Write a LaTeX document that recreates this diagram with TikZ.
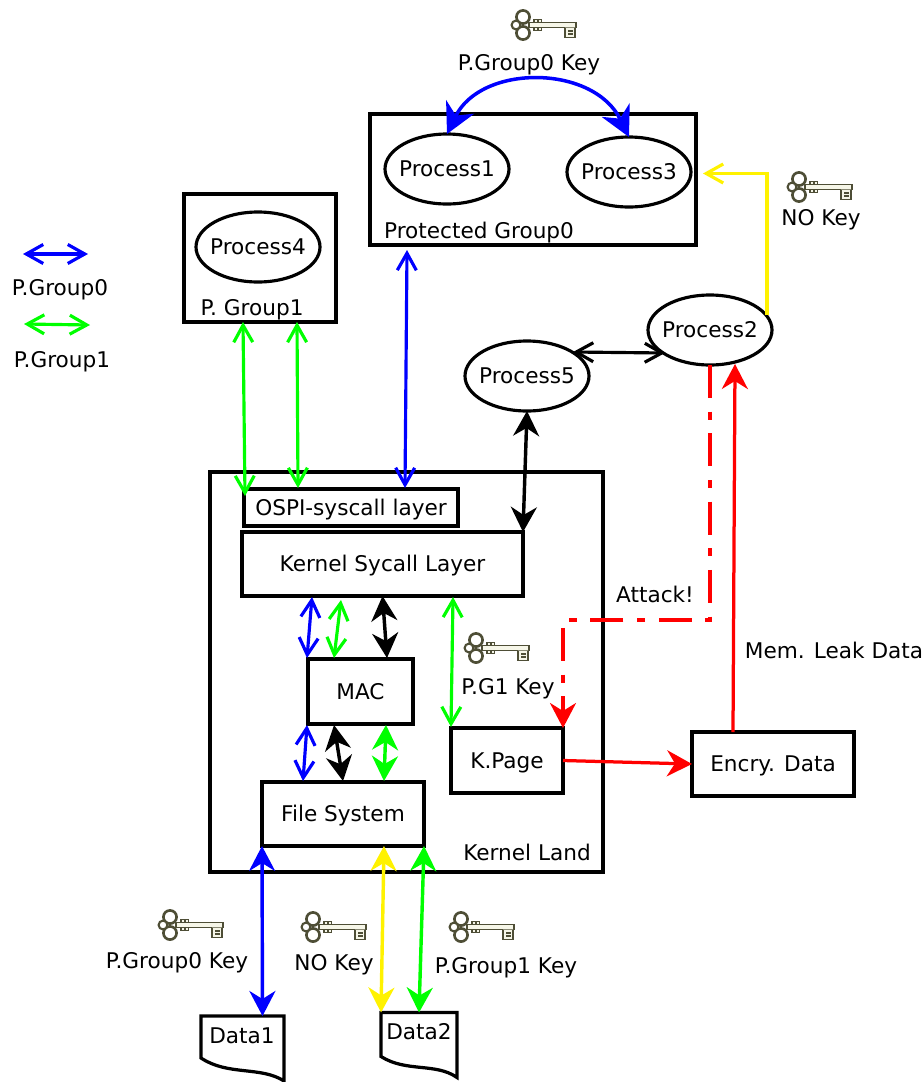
\documentclass[tikz,border=0pt]{standalone}
\usepackage{fontspec}
\setmainfont{DejaVu Sans}
\usetikzlibrary{arrows.meta,calc,positioning,shapes.geometric}
\definecolor{keyline}{HTML}{4E4E36}
\definecolor{keyfill}{HTML}{F6F6E8}
\tikzset{
  lbl/.style={font=\fontsize{12.3}{14}\selectfont,inner sep=0pt,text height=9pt,text depth=0pt},
  box/.style 2 args={draw,line width=1.85pt,outer sep=0pt,inner sep=0pt,
    minimum width=#1*0.02cm,minimum height=#2*0.02cm,lbl},
  proc/.style={ellipse,draw,line width=1.8pt,outer sep=0pt,inner sep=0pt,
    minimum width=124*0.02cm,minimum height=70*0.02cm,label={[lbl]center:#1}},
  docbox/.style={outer sep=0pt,inner sep=0pt,minimum width=#1*0.02cm,minimum height=65*0.02cm},
  doc/.style={line width=1.85pt,line join=miter},
  thinarr/.style={line width=1.8pt,{Straight Barb[length=3.4mm,width=3.8mm]}-{Straight Barb[length=3.4mm,width=3.8mm]}},
  bigarr/.style={line width=1.95pt,{Stealth[length=5mm,width=5.2mm,inset=1.6mm]}-{Stealth[length=5mm,width=5.2mm,inset=1.6mm]}},
  arcarr/.style={line width=2pt,{Stealth[length=6mm,width=6.2mm,inset=1.9mm]}-{Stealth[length=6mm,width=6.2mm,inset=1.9mm]}},
  onearr/.style={line width=1.85pt,-{Stealth[length=5mm,width=5.2mm,inset=1.6mm]}},
  keyicon/.pic={
    \draw[keyline,fill=keyfill,line width=0.7pt] (-14,-2.7) rectangle (33,2.7);
    \draw[keyline,fill=keyfill,line width=0.7pt] (22,2.7) -- (22,12.5) -- (32,12.5) -- (32,2.7)
      (25,6) -- (30,6) (25,9) -- (30,9);
    \foreach \tx in {-9,-5} {
      \draw[keyline,fill=keyfill,line width=0.6pt] (\tx,-5.2) rectangle ++(3.6,2.5);
      \draw[keyline,fill=keyfill,line width=0.6pt] (\tx,2.7) rectangle ++(3.6,2.5);
    }
    \draw[keyline,line width=1.5pt,fill=white] (-20,-8) circle (6.6);
    \draw[keyline,line width=1.5pt,fill=white] (-20,8) circle (6.6);
    \draw[keyline,line width=1.2pt,fill=white] (-27,0) circle (4.4);
  },
}

\begin{document}
\begin{tikzpicture}[x=0.02cm,y=-0.02cm,>=Stealth]
  \useasboundingbox (0,0) rectangle (923,1082);
  % protected group and its processes
  \node[box={326}{131}] (pg0) at (533,179.5) {};
  \node[proc=Process1] (p1) at (447,169) {};
  \node[proc=Process3] (p3) at (629,172) {};
  \node[lbl] (pg0txt) at (479,231) {Protected Group0};
  \node[box={152}{128}] (pg1) at (260,258) {};
  \node[proc=Process4] (p4) at (258,247) {};
  \node[lbl] (pg1txt) at (252,308) {P. Group1};
  \node[proc=Process2] (p2) at (710,330) {};
  \node[proc=Process5] (p5) at (527,376) {};
  % kernel side
  \node[box={393}{400}] (kernel) at (406.5,672) {};
  \node[lbl] (kerneltxt) at (527,853) {Kernel Land};
  \node[box={214}{37}] (ospi) at (351,507.5) {OSPI-syscall layer};
  \node[box={281}{64}] (sys) at (382.5,564) {Kernel Sycall Layer};
  \node[box={105}{65}] (mac) at (360.5,691.5) {MAC};
  \node[box={162}{64}] (fs) at (343,814) {File System};
  \node[box={112}{65}] (kpage) at (507,760.5) {K.Page};
  \node[box={162}{64}] (encry) at (773,764) {Encry. Data};
  % data files
  \node[docbox=83] (data1) at (242.5,1048.5) {};
  \node[docbox=76] (data2) at (419,1045) {};
  \node[lbl] (data1txt) at (242,1036) {Data1};
  \node[lbl] (data2txt) at (419,1032) {Data2};
  \draw[doc] (data1.north west) -- (data1.north east) -- (data1.south east)
    .. controls ($(data1.south east)+(-23,-15)$) and ($(data1.south west)+(27,-5)$) .. ($(data1.south west)+(0,-23)$) -- cycle;
  \draw[doc] (data2.north west) -- (data2.north east) -- (data2.south east)
    .. controls ($(data2.south east)+(-21,-15)$) and ($(data2.south west)+(25,-5)$) .. ($(data2.south west)+(0,-21)$) -- cycle;
  % legend
  \coordinate (leg0a) at (23,254);
  \coordinate (leg0b) at (88,254);
  \coordinate (leg1a) at (24,324);
  \coordinate (leg1b) at (90,325);
  \draw[thinarr,blue] (leg0a) -- (leg0b);
  \draw[thinarr,green] (leg1a) -- (leg1b);
  \node[lbl] (leg0txt) at (60,288) {P.Group0};
  \node[lbl] (leg1txt) at (62,360) {P.Group1};
  % keys
  \pic at (543,25) {keyicon};
  \pic at (819,187) {keyicon};
  \pic at (496,648) {keyicon};
  \pic at (190,925) {keyicon};
  \pic at (333,927) {keyicon};
  \pic at (481,927) {keyicon};
  \node[lbl] (key0txt) at (529,63) {P.Group0 Key};
  \node[lbl] (nokey0txt) at (821,218) {NO Key};
  \node[lbl] (key1txt) at (508,687) {P.G1 Key};
  \node[lbl] (key2txt) at (177,961) {P.Group0 Key};
  \node[lbl] (nokey1txt) at (334,963) {NO Key};
  \node[lbl] (key3txt) at (506,966) {P.Group1 Key};
  \node[lbl] (attacktxt) at (655,595) {Attack!};
  \node[lbl] (leaktxt) at (834,651) {Mem. Leak Data};
  % top arcs and process links
  \draw[arcarr,blue] (p1.north) .. controls ($(p1.north)+(34,-70)$) and ($(p3.north)+(-36,-73)$) .. (p3.north);
  \draw[thinarr,black] ($(p5.center)+(46,-24)$) -- ($(p2.center)+(-45,23)$);
  \draw[line width=1.8pt,yellow,-{Straight Barb[length=3.4mm,width=3.8mm]}] ($(p2.center)+(57,-15)$) |- ($(pg0.east)+(7,-6)$);
  \draw[thinarr,blue] ($(pg0.south west)+(37,5)$) -- ($(ospi.north west)+(161,-1)$);
  \draw[thinarr,green] ($(pg1.south west)+(59,0)$) -- ($(ospi.north west)+(1,7)$);
  \draw[thinarr,green] ($(pg1.south west)+(113,0)$) -- ($(ospi.north west)+(54,-1)$);
  \draw[bigarr,black] (p5.south) -- (sys.north east);
  % inside the kernel
  \draw[thinarr,blue] ($(sys.south west)+(70,1)$) -- ($(mac.north west)+(-1,-1)$);
  \draw[thinarr,green] ($(sys.south west)+(99,4)$) -- ($(mac.north west)+(26,-1)$);
  \draw[bigarr,black] (sys.south) -- ($(mac.north west)+(79,-1)$);
  \draw[thinarr,green] ($(sys.south west)+(211,1)$) -- ($(kpage.north west)+(0,-1)$);
  \draw[thinarr,blue] ($(mac.south west)+(-1,1)$) -- ($(fs.north west)+(41,-1)$);
  \draw[bigarr,black] ($(mac.south west)+(26,1)$) -- ($(fs.north west)+(81,-1)$);
  \draw[bigarr,green] ($(mac.south west)+(78,1)$) -- ($(fs.north west)+(122,-1)$);
  % attack path
  \coordinate (atk) at (563,620);
  \draw[line width=1.85pt,red,dash pattern=on 18.8pt off 7.77pt on 4.55pt off 7.77pt,-{Stealth[length=5mm,width=5.2mm,inset=1.6mm]}] (p2.south) |- (atk) -- (kpage.north east);
  \draw[onearr,red] (kpage.east) -- (encry.west);
  \draw[onearr,red] ($(encry.north west)+(41,0)$) -- ($(p2.south)+(25,-1)$);
  % file system to data
  \draw[bigarr,blue] (fs.south west) -- ($(data1.north)+(20,0)$);
  \draw[bigarr,yellow] ($(fs.south west)+(122,0)$) -- (data2.north west);
  \draw[bigarr,green] (fs.south east) -- (data2.north);
\end{tikzpicture}
\end{document}
